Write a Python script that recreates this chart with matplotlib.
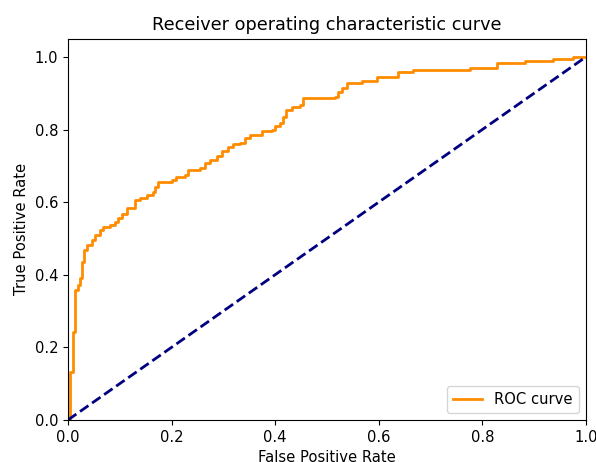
import matplotlib
matplotlib.use('Agg')
import matplotlib.pyplot as plt

# ROC vertices (false positive rate, true positive rate)
fpr = [0.0, 0.004, 0.010, 0.014, 0.019, 0.023, 0.027, 0.031, 0.037, 0.046,
       0.052, 0.062, 0.068, 0.081, 0.091, 0.097, 0.104, 0.114, 0.129, 0.139,
       0.153, 0.164, 0.168, 0.174, 0.201, 0.208, 0.226, 0.232, 0.255, 0.264,
       0.274, 0.288, 0.297, 0.309, 0.319, 0.332, 0.342, 0.351, 0.375, 0.394,
       0.400, 0.409, 0.415, 0.421, 0.432, 0.448, 0.454, 0.515, 0.521, 0.529,
       0.539, 0.568, 0.597, 0.637, 0.666, 0.776, 0.828, 0.882, 0.936, 0.975,
       1.0]
tpr = [0.0, 0.132, 0.242, 0.358, 0.372, 0.391, 0.435, 0.468, 0.482, 0.496,
       0.510, 0.523, 0.532, 0.537, 0.545, 0.556, 0.567, 0.584, 0.606, 0.612,
       0.620, 0.628, 0.642, 0.656, 0.661, 0.669, 0.675, 0.689, 0.694, 0.708,
       0.716, 0.727, 0.741, 0.752, 0.760, 0.763, 0.777, 0.785, 0.796, 0.799,
       0.810, 0.818, 0.835, 0.854, 0.862, 0.868, 0.887, 0.890, 0.904, 0.915,
       0.928, 0.934, 0.945, 0.959, 0.964, 0.970, 0.983, 0.989, 0.994, 1.0,
       1.0]

plt.rcParams['font.size'] = 10.6

fig = plt.figure(figsize=(5.96, 4.62), dpi=100)
fig.subplots_adjust(left=0.114, right=0.983, top=0.916, bottom=0.091)
ax = fig.add_subplot(111)

ax.step(fpr, tpr, where='post', color='darkorange', lw=2, label='ROC curve')
ax.plot([0, 1], [0, 1], color='navy', lw=2, linestyle='--')
ax.set_xlim([0.0, 1.0])
ax.set_ylim([0.0, 1.05])
ax.set_xlabel('False Positive Rate')
ax.set_ylabel('True Positive Rate')
ax.set_title('Receiver operating characteristic curve')
ax.legend(loc='lower right')

plt.savefig('out.png')
